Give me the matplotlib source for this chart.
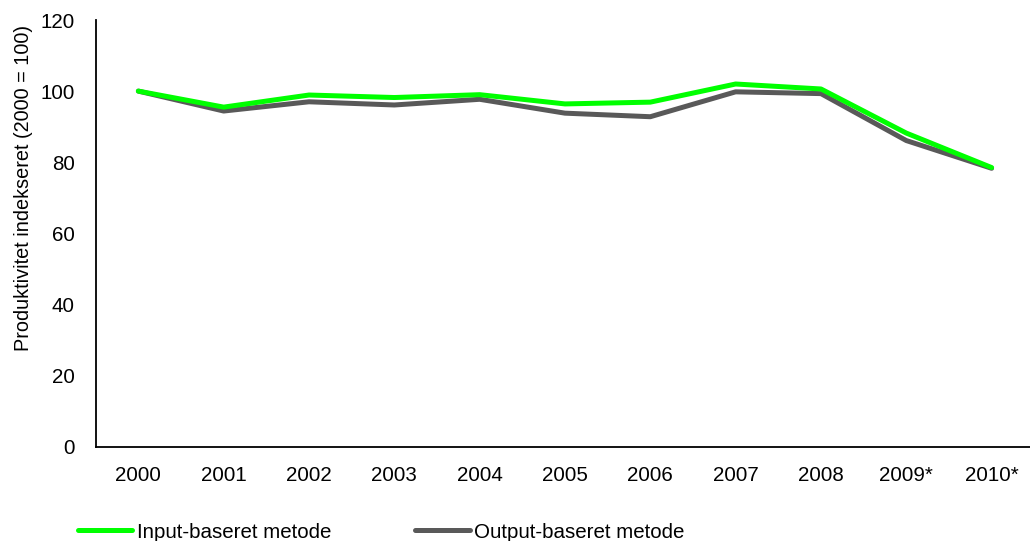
import matplotlib
matplotlib.use("Agg")
import matplotlib.pyplot as plt

years = ["2000", "2001", "2002", "2003", "2004", "2005", "2006", "2007", "2008", "2009*", "2010*"]
input_based = [100, 95.5, 98.9, 98.2, 99.0, 96.4, 96.9, 102.0, 100.6, 88.2, 78.5]
output_based = [100, 94.4, 97.0, 96.1, 97.7, 93.8, 92.8, 99.8, 99.3, 86.1, 78.3]
yticks = [0, 20, 40, 60, 80, 100, 120]

plt.rcParams['font.family'] = ['Liberation Sans', 'DejaVu Sans']
FS = 14.8

fig = plt.figure(figsize=(10.30, 5.41), dpi=100)
W, H = 1030, 541
ax = fig.add_axes([95.7 / W, 1 - 446.7 / H, (1030 - 95.7) / W, (446.7 - 20) / H])

x = list(range(len(years)))
ax.plot(x, input_based, color="#00FF00", lw=3.6, solid_capstyle="round", solid_joinstyle="round",
        label="Input-baseret metode", zorder=3)
ax.plot(x, output_based, color="#595959", lw=3.6, solid_capstyle="round", solid_joinstyle="round",
        label="Output-baseret metode", zorder=2)

ax.set_xlim(-0.5, 10.45)
ax.set_ylim(0, 120)
ax.set_yticks(yticks)
ax.set_xticks(x)
ax.set_xticklabels(years)
ax.tick_params(axis="both", length=0, labelsize=FS, colors="black")
ax.tick_params(axis="x", pad=14)
ax.tick_params(axis="y", pad=15)
for s in ["top", "right"]:
    ax.spines[s].set_visible(False)
for s in ["left", "bottom"]:
    ax.spines[s].set_linewidth(1.3)
    ax.spines[s].set_color("black")

ax.set_ylabel("Produktivitet indekseret (2000 = 100)", fontsize=14.3)
ax.yaxis.set_label_coords((33 - 95.7) / 934.3, (446.7 - 187.5) / 426.7)

leg = fig.legend(loc="center left", bbox_to_anchor=(78 / W, 1 - 532 / H), ncol=2, frameon=False,
                 fontsize=FS, handlelength=2.65, handletextpad=0.2, columnspacing=4.1,
                 borderpad=0, borderaxespad=0)

fig.savefig("out.png", dpi=100)
